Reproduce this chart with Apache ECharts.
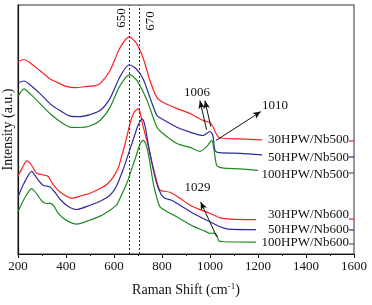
<!DOCTYPE html>
<html>
<head>
<meta charset="utf-8">
<script src="https://cdn.jsdelivr.net/npm/echarts@6/dist/echarts.min.js"></script>
<style>
  html, body { margin: 0; padding: 0; background: #fff; }
  #main { width: 372px; height: 305px; }
</style>
</head>
<body>
<div id="main"></div>
<script>
// Raman spectra, x = Raman shift (cm-1), y = intensity with offsets (a.u.)
var xTicks = [200, 400, 600, 800, 1000, 1200, 1400, 1600];
var seriesNames = ['30HPW/Nb500', '50HPW/Nb500', '100HPW/Nb500', '30HPW/Nb600', '50HPW/Nb600', '100HPW/Nb600'];

var red500 = [[200,193],[225,195.3],[250,192],[292,184],[333,176],[375,171],[404,168],[437,167],[479,168],[521,169],[542,171],[583,184],[625,207],[663,218],[692,212],[721,197],[750,174],[779,157],[804,152.3],[862,146],[917,141],[971,134],[1000,132],[1012,128],[1025,121],[1042,116.5],[1125,115.5],[1217,114.5]];
var blue500 = [[200,171.7],[225,173.7],[250,170],[292,161],[333,151],[375,144],[417,138.5],[458,138],[500,140],[542,144],[583,156],[625,178],[663,190],[692,186],[721,176],[750,157],[779,139],[804,135],[862,127.3],[917,122.3],[971,119],[1000,123],[1012,119],[1021,104],[1042,101.7],[1125,101],[1217,99.5]];
var green500 = [[200,158],[225,165.7],[250,161],[292,151],[333,141],[375,133],[417,127.3],[458,127],[500,128.5],[542,134],[583,147],[625,169],[667,180],[696,174],[738,154],[779,127.3],[804,121],[862,111],[917,107],[958,103],[987,108],[1007,114],[1017,104],[1028,89],[1050,86.5],[1125,85.5],[1200,84]];
var red600 = [[200,78.5],[217,86],[236,93.5],[254,90],[278,81],[304,79.5],[325,78],[346,70],[375,62.3],[424,56],[471,59],[500,61],[542,65.7],[571,70],[596,77],[617,86],[633,99],[650,114],[667,131],[683,142],[699,145.7],[708,143],[722,127.3],[742,109],[763,87.3],[779,72],[792,64],[833,62],[875,56],[917,49],[958,44.5],[1000,40.7],[1042,36.3],[1083,35],[1192,34.5]];
var blue600 = [[200,57.3],[225,71],[257,83],[279,76],[304,69],[333,67.3],[354,62],[375,55],[408,48],[445,44.7],[500,49],[542,53],[583,59],[608,67],[637,84],[658,99],[679,114],[700,129],[718,135.7],[729,129],[742,111],[758,91],[778,71],[796,60],[812,56],[840,54],[875,49],[929,41],[1000,32.3],[1042,27.3],[1075,25],[1192,24.5]];
var green600 = [[200,42.3],[225,55],[257,65.7],[279,60],[300,53],[320,50.7],[333,51],[350,48],[367,41],[400,34],[445,30],[500,34],[542,38],[583,44],[611,49],[625,56],[653,70.7],[675,86],[695,100.7],[708,110],[722,114],[733,110],[743,100.7],[764,70.7],[779,56],[792,47.3],[825,42],[861,37.3],[929,28],[979,23],[1000,20.7],[1012,21],[1028,19],[1037,13],[1058,12.3],[1192,12]];

var refLines = [663, 707];          // dotted guide lines (labelled 650 / 670)
var arrows = [                      // [tail, head] in data units
  [[986, 124.7], [958, 154]],
  [[1003, 128], [979, 154]],
  [[1025, 114], [1212, 143]],
  [[1028, 17.3], [961, 52.3]]
];

var colors = ['#ff2020', '#2b2b9c', '#1f8a1f', '#ff2020', '#2b2b9c', '#1f8a1f'];
var seriesData = [red500, blue500, green500, red600, blue600, green600];
var serif = 'Liberation Serif';

var myChart = echarts.init(document.getElementById('main'));

var series = [];
for (var i = 0; i < seriesData.length; i++) {
  series.push({
    name: seriesNames[i],
    type: 'line',
    data: seriesData[i],
    showSymbol: false,
    smooth: 0.25,
    lineStyle: { color: colors[i], width: 1.2 },
    z: 3
  });
}
// guide lines and arrows hang on the first series
series[0].markLine = {
  silent: true,
  animation: false,
  symbol: ['none', 'none'],
  label: { show: false },
  lineStyle: { color: '#333', type: [2, 2], width: 1 },
  data: refLines.map(function (v) { return { xAxis: v }; })
};
series.push({
  type: 'line',
  data: [],
  markLine: {
    silent: true,
    animation: false,
    symbol: ['none', 'arrow'],
    symbolSize: [5, 8],
    label: { show: false },
    lineStyle: { color: '#111', type: 'solid', width: 1 },
    data: arrows.map(function (a) {
      return [{ coord: a[0] }, { coord: a[1] }];
    })
  }
});

// right side labels with short colour dashes
var labelY = [140, 157.5, 175, 215, 230, 243];
var dashY = [141, 157, 173, 219, 230, 244];
var graphics = [];
for (var k = 0; k < seriesNames.length; k++) {
  graphics.push({
    type: 'text', x: 349, y: labelY[k],
    style: { text: seriesNames[k], font: '13px ' + serif, fill: '#111', align: 'right', verticalAlign: 'middle' }
  });
  graphics.push({
    type: 'line', shape: { x1: 349, y1: dashY[k], x2: 354, y2: dashY[k] },
    style: { stroke: colors[k], lineWidth: 1.2 }
  });
}
var notes = [['1006', 197, 93], ['1010', 275, 106], ['1029', 197.5, 188]];
notes.forEach(function (n) {
  graphics.push({
    type: 'text', x: n[1], y: n[2],
    style: { text: n[0], font: '13px ' + serif, fill: '#111', align: 'center', verticalAlign: 'middle' }
  });
});
graphics.push({
  type: 'text', x: 122, y: 18, rotation: Math.PI / 2,
  style: { text: '650', font: '13px ' + serif, fill: '#111', align: 'center', verticalAlign: 'middle' }
});
graphics.push({
  type: 'text', x: 151, y: 21, rotation: Math.PI / 2,
  style: { text: '670', font: '13px ' + serif, fill: '#111', align: 'center', verticalAlign: 'middle' }
});

var option = {
  animation: false,
  backgroundColor: '#fff',
  grid: {
    left: 18, right: 18, top: 5, bottom: 51,
    outerBoundsMode: 'none',
    containLabel: false,
    show: true, borderColor: '#777', borderWidth: 1.5
  },
  xAxis: {
    type: 'value',
    min: xTicks[0],
    max: xTicks[xTicks.length - 1],
    interval: 200,
    name: 'Raman Shift (cm{sup|-1})',
    nameLocation: 'middle',
    nameGap: 28,
    nameTextStyle: {
      fontFamily: serif, fontSize: 14, color: '#111',
      rich: { sup: { fontFamily: serif, fontSize: 9, color: '#111', verticalAlign: 'top', padding: [0, 0, 8, 0] } }
    },
    axisLine: { lineStyle: { color: '#111', width: 1.2 } },
    axisTick: { inside: false, length: 4, lineStyle: { color: '#111' } },
    minorTick: { show: true, splitNumber: 2, length: 2, lineStyle: { color: '#111' } },
    axisLabel: {
      fontFamily: serif, fontSize: 13, color: '#111', margin: 6,
      formatter: function (v) { return String(v); }
    },
    splitLine: { show: false }
  },
  yAxis: {
    type: 'value',
    min: 0,
    max: 250,
    name: 'Intensity (a.u.)',
    nameLocation: 'middle',
    nameGap: 3,
    nameTextStyle: { fontFamily: serif, fontSize: 14, color: '#111' },
    axisLine: { show: true, lineStyle: { color: '#111', width: 1.2 } },
    axisTick: { show: false },
    axisLabel: { show: false },
    splitLine: { show: false }
  },
  graphic: graphics,
  series: series
};
myChart.setOption(option);
</script>
</body>
</html>
